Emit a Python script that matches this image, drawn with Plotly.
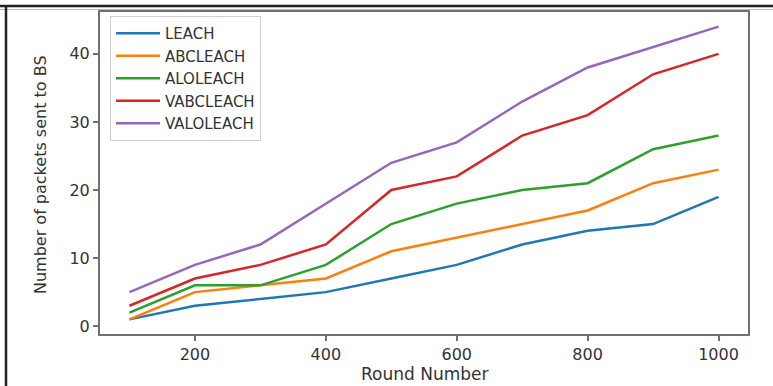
import plotly.graph_objects as go

rounds = [100, 200, 300, 400, 500, 600, 700, 800, 900, 1000]
leach = [1, 3, 4, 5, 7, 9, 12, 14, 15, 19]
abcleach = [1, 5, 6, 7, 11, 13, 15, 17, 21, 23]
aloleach = [2, 6, 6, 9, 15, 18, 20, 21, 26, 28]
vabcleach = [3, 7, 9, 12, 20, 22, 28, 31, 37, 40]
valoleach = [5, 9, 12, 18, 24, 27, 33, 38, 41, 44]

series_names = ["LEACH", "ABCLEACH", "ALOLEACH", "VABCLEACH", "VALOLEACH"]
series_values = [leach, abcleach, aloleach, vabcleach, valoleach]
colors = ["#1f77b4", "#ff7f0e", "#2ca02c", "#d62728", "#9467bd"]

x_ticks = [200, 400, 600, 800, 1000]
y_ticks = [0, 10, 20, 30, 40]

fig = go.Figure()
for name, vals, c in zip(series_names, series_values, colors):
    fig.add_trace(go.Scatter(x=rounds, y=vals, mode="lines", name=name,
                             line=dict(color=c, width=2.5)))

W, H = 773, 386
L, R, T, B = 100, 25, 12, 52
pw, ph = W - L - R, H - T - B

def px_x(p):
    return (p - L) / pw

def px_y(p):
    return (H - B - p) / ph

txt = "#333333"
axis_common = dict(showline=True, mirror=True, linecolor="#707070", linewidth=2,
                   ticks="outside", ticklen=5, tickcolor="#707070", tickwidth=1.5,
                   showgrid=False, zeroline=False, automargin=False,
                   tickfont=dict(family="DejaVu Sans", size=16, color=txt))

fig.update_layout(
    width=W, height=H,
    margin=dict(l=L, r=R, t=T, b=B, autoexpand=False),
    plot_bgcolor="white", paper_bgcolor="white",
    xaxis=dict(range=[55, 1045], tickvals=x_ticks, **axis_common),
    yaxis=dict(range=[-1.15, 46.15], tickvals=y_ticks, **axis_common),
    legend=dict(x=px_x(110), y=px_y(16), xanchor="left", yanchor="top",
                bgcolor="white", bordercolor="#d0d0d0", borderwidth=1,
                font=dict(family="DejaVu Sans", size=15, color=txt),
                itemwidth=44, tracegroupgap=0),
    showlegend=True,
)

fig.add_annotation(text="Round Number", xref="paper", yref="paper",
                   x=px_x(424), y=px_y(374), xanchor="center", yanchor="middle",
                   showarrow=False, font=dict(family="DejaVu Sans", size=17, color=txt))
fig.add_annotation(text="Number of packets sent to BS", xref="paper", yref="paper",
                   x=px_x(40), y=px_y(175), xanchor="center", yanchor="middle",
                   textangle=-90, showarrow=False,
                   font=dict(family="DejaVu Sans", size=16, color=txt))

# outer figure border (top and left edges)
fig.add_shape(type="line", xref="paper", yref="paper",
              x0=px_x(0), x1=px_x(W), y0=px_y(6), y1=px_y(6),
              line=dict(color="#222222", width=2.5))
fig.add_shape(type="line", xref="paper", yref="paper",
              x0=px_x(0), x1=px_x(W), y0=px_y(9.5), y1=px_y(9.5),
              line=dict(color="#bbbbbb", width=1))
fig.add_shape(type="line", xref="paper", yref="paper",
              x0=px_x(6), x1=px_x(6), y0=px_y(5), y1=px_y(H),
              line=dict(color="#222222", width=2.5))

fig.write_html("out.html", config={"displayModeBar": False},
               post_script="document.body.style.margin='0';document.body.style.overflow='hidden';")
